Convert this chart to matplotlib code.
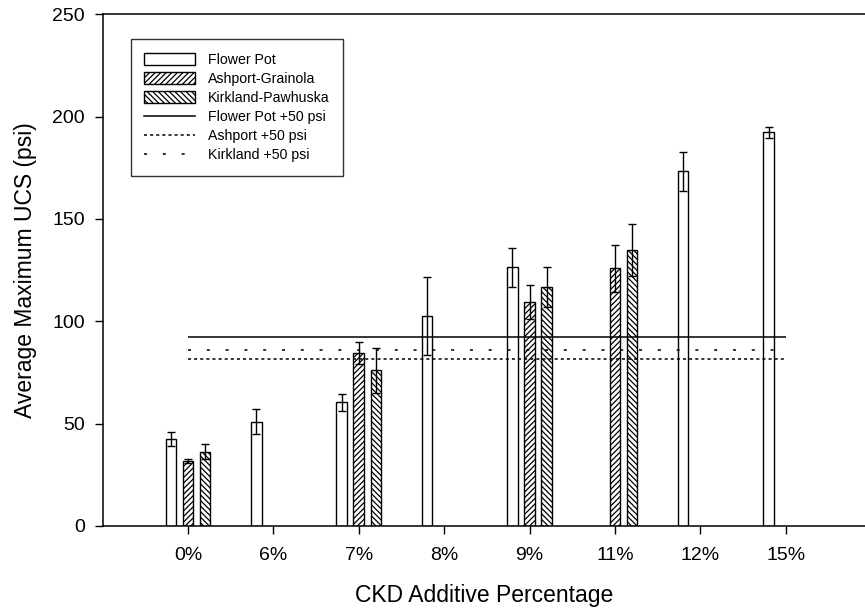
import matplotlib
matplotlib.use('Agg')
import matplotlib.pyplot as plt
import numpy as np
from matplotlib.patches import Patch
from matplotlib.lines import Line2D

plt.rcParams['font.family'] = ['Liberation Sans', 'DejaVu Sans']
plt.rcParams['hatch.linewidth'] = 0.9

categories = ['0%', '6%', '7%', '8%', '9%', '11%', '12%', '15%']
flower_pot = [42.4, 51.0, 60.5, 102.7, 126.4, np.nan, 173.2, 192.3]
flower_err = [3.5, 6.2, 4.2, 19.0, 9.5, np.nan, 9.6, 2.5]
ashport = [31.8, np.nan, 84.5, np.nan, 109.4, 125.9, np.nan, np.nan]
ashport_err = [1.0, np.nan, 5.5, np.nan, 8.2, 11.4, np.nan, np.nan]
kirkland = [36.3, np.nan, 76.1, np.nan, 116.9, 134.8, np.nan, np.nan]
kirkland_err = [3.6, np.nan, 11.0, np.nan, 9.8, 12.6, np.nan, np.nan]
thresholds = {'Flower Pot +50 psi': 92.2, 'Ashport +50 psi': 81.6, 'Kirkland +50 psi': 86.2}

W, H = 865, 610
fig = plt.figure(figsize=(W / 100, H / 100), dpi=100)
left_px, bottom_px, top_px = 102.7, 526.0, 14.3
ax = fig.add_axes([left_px / W, 1 - bottom_px / H, 1 - left_px / W, (bottom_px - top_px) / H])

x = np.arange(len(categories))
w = 0.125
off = 0.2
ekw = dict(ecolor='black', elinewidth=1.0, capsize=3, capthick=1.0, zorder=4)


def draw(vals, errs, offset, hatch):
    vals = np.array(vals, dtype=float)
    errs = np.array(errs, dtype=float)
    m = ~np.isnan(vals)
    ax.bar(x[m] + offset, vals[m], w, color='white', edgecolor='black', linewidth=1.0,
           hatch=hatch, zorder=2)
    ax.errorbar(x[m] + offset, vals[m], yerr=errs[m], fmt='none', **ekw)


draw(flower_pot, flower_err, -off, None)
draw(ashport, ashport_err, 0, '//////')
draw(kirkland, kirkland_err, off, '\\\\\\\\\\\\')

ls = {'Flower Pot +50 psi': '-', 'Ashport +50 psi': (0, (2, 2)), 'Kirkland +50 psi': (0, (2, 10.3))}
for k, v in thresholds.items():
    ax.hlines(v, x[0], x[-1], colors='black', linestyles=ls[k], linewidth=1.1, zorder=5)

ax.set_xlim(-1, (W - 188.3) / 85.33)
ax.set_ylim(0, 250)
ax.set_yticks([0, 50, 100, 150, 200, 250])
ax.set_xticks(x)
ax.set_xticklabels(categories)
ax.spines['right'].set_visible(False)
for s in ['left', 'bottom', 'top']:
    ax.spines[s].set_linewidth(1.1)
ax.tick_params(axis='both', direction='out', length=5.8, width=1.0, labelsize=14, top=False, right=False)
ax.tick_params(axis='y', pad=7)
ax.tick_params(axis='x', pad=9)
ax.set_xlabel('CKD Additive Percentage', fontsize=16.5, labelpad=15)
ax.set_ylabel('Average Maximum UCS (psi)', fontsize=16.5, labelpad=11)

handles = [
    Patch(facecolor='white', edgecolor='black', linewidth=1.0, label='Flower Pot'),
    Patch(facecolor='white', edgecolor='black', linewidth=1.0, hatch='//////', label='Ashport-Grainola'),
    Patch(facecolor='white', edgecolor='black', linewidth=1.0, hatch='\\\\\\\\\\\\', label='Kirkland-Pawhuska'),
    Line2D([], [], color='black', linestyle='-', linewidth=1.1, label='Flower Pot +50 psi'),
    Line2D([], [], color='black', linestyle=(0, (2, 2)), linewidth=1.1, label='Ashport +50 psi'),
    Line2D([], [], color='black', linestyle=(0, (2, 10.3)), linewidth=1.1, label='Kirkland +50 psi'),
]
leg = ax.legend(handles=handles, loc='upper left', bbox_to_anchor=(131 / W, 1 - 39.3 / H),
                bbox_transform=fig.transFigure, fontsize=10.2, frameon=True, fancybox=False,
                handlelength=3.6, handleheight=0.95, handletextpad=0.9, labelspacing=0.36,
                borderpad=0.95, borderaxespad=0)
leg.get_frame().set_edgecolor('black')
leg.get_frame().set_linewidth(1.0)
leg.set_zorder(10)

fig.savefig('out.png', dpi=100)
